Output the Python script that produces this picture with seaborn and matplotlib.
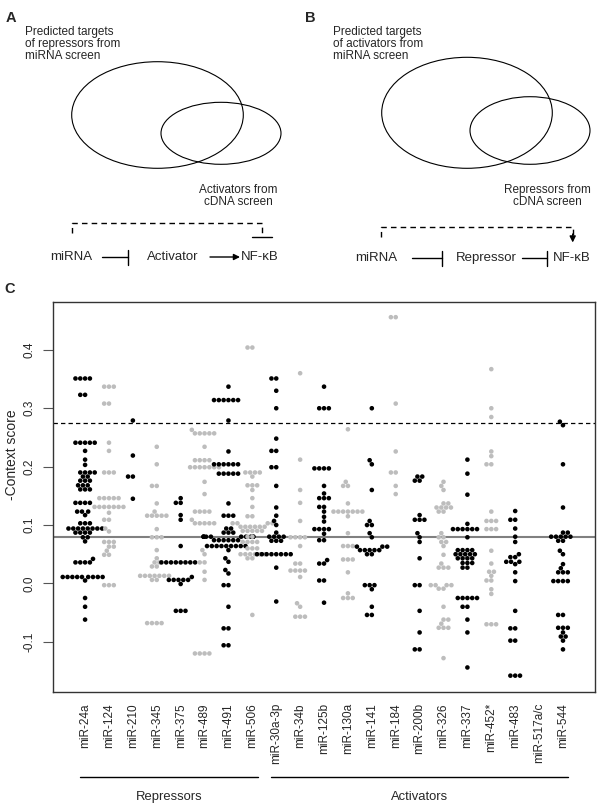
import pandas as pd
import matplotlib
matplotlib.use("Agg")
import matplotlib.pyplot as plt
from matplotlib.patches import Ellipse
from matplotlib.transforms import blended_transform_factory
import seaborn as sns
import seaborn.categorical as sns_cat

# -Context scores, as (value, number of dots at that value)
MIRNAS = ["miR-24a", "miR-124", "miR-210", "miR-345", "miR-375", "miR-489",
          "miR-491", "miR-506", "miR-30a-3p", "miR-34b", "miR-125b", "miR-130a",
          "miR-141", "miR-184", "miR-200b", "miR-326", "miR-337", "miR-452*",
          "miR-483", "miR-517a/c", "miR-544"]

mir_24a = [(0.351, 4), (0.323, 2), (0.241, 5), (0.227, 1), (0.212, 1), (0.203, 1),
           (0.190, 4), (0.183, 2), (0.176, 3), (0.168, 3), (0.161, 3), (0.138, 4),
           (0.123, 3), (0.117, 1), (0.103, 3), (0.094, 8), (0.087, 4), (0.079, 2),
           (0.072, 1), (0.042, 1), (0.036, 4), (0.011, 9), (0.005, 1), (-0.025, 1),
           (-0.040, 1), (-0.062, 1)]
mir_124 = [(0.337, 3), (0.308, 2), (0.241, 1), (0.227, 1), (0.190, 3), (0.146, 5),
           (0.131, 7), (0.121, 1), (0.109, 2), (0.094, 1), (0.089, 1), (0.071, 3),
           (0.063, 2), (0.056, 1), (0.049, 2), (-0.003, 3)]
mir_210 = [(0.279, 1), (0.219, 1), (0.183, 2), (0.145, 1)]
mir_345 = [(0.234, 1), (0.204, 1), (0.167, 2), (0.137, 1), (0.123, 1), (0.116, 5),
           (0.093, 1), (0.079, 3), (0.057, 1), (0.043, 1), (0.036, 2), (0.029, 2),
           (0.013, 7), (0.006, 2), (-0.068, 4)]
mir_375 = [(0.146, 1), (0.138, 2), (0.117, 1), (0.109, 1), (0.064, 1), (0.036, 8),
           (0.011, 1), (0.006, 5), (-0.001, 1), (-0.047, 3)]
mir_489 = [(0.263, 1), (0.257, 5), (0.234, 1), (0.211, 4), (0.199, 7), (0.174, 1),
           (0.153, 1), (0.123, 4), (0.109, 1), (0.103, 5), (0.057, 1), (0.050, 1),
           (0.036, 2), (0.020, 1), (0.006, 1), (-0.120, 4)]
mir_491 = [(0.337, 1), (0.314, 6), (0.279, 1), (0.226, 1), (0.204, 6), (0.188, 5),
           (0.137, 1), (0.116, 3), (0.094, 2), (0.087, 3), (0.080, 10), (0.074, 6),
           (0.064, 9), (0.057, 1), (0.043, 1), (0.037, 1), (0.023, 1), (0.017, 1),
           (-0.003, 2), (-0.040, 1), (-0.077, 2), (-0.106, 2)]
mir_506 = [(0.404, 2), (0.190, 4), (0.183, 1), (0.168, 3), (0.160, 1), (0.146, 1),
           (0.131, 1), (0.115, 2), (0.103, 4), (0.097, 6), (0.090, 5), (0.080, 2),
           (0.071, 4), (0.060, 3), (0.050, 6), (0.043, 2), (-0.054, 1)]
mir_30a = [(0.351, 2), (0.330, 1), (0.300, 1), (0.248, 1), (0.227, 2), (0.199, 2),
           (0.167, 1), (0.130, 1), (0.116, 1), (0.107, 1), (0.100, 1), (0.087, 1),
           (0.080, 4), (0.073, 3), (0.050, 8), (0.027, 1), (-0.031, 1)]
mir_34b = [(0.360, 1), (0.212, 1), (0.160, 1), (0.138, 1), (0.107, 1), (0.079, 4),
           (0.064, 1), (0.034, 2), (0.022, 4), (0.011, 1), (-0.034, 1), (-0.040, 1),
           (-0.057, 3)]
mir_125b = [(0.337, 1), (0.300, 3), (0.197, 4), (0.167, 1), (0.154, 1), (0.146, 3),
            (0.131, 2), (0.123, 1), (0.114, 1), (0.106, 1), (0.093, 4), (0.085, 1),
            (0.074, 2), (0.040, 1), (0.034, 2), (0.005, 2), (-0.033, 1)]
mir_130a = [(0.264, 1), (0.174, 1), (0.167, 2), (0.137, 1), (0.123, 7), (0.115, 1),
            (0.086, 1), (0.064, 3), (0.041, 3), (0.019, 1), (-0.017, 1), (-0.025, 3)]
mir_141 = [(0.300, 1), (0.211, 1), (0.204, 1), (0.160, 1), (0.107, 1), (0.100, 2),
           (0.086, 1), (0.079, 1), (0.063, 3), (0.057, 5), (0.050, 2), (-0.003, 3),
           (-0.010, 1), (-0.040, 1), (-0.054, 2)]
mir_184 = [(0.456, 2), (0.308, 1), (0.226, 1), (0.190, 2), (0.167, 1), (0.153, 1)]
mir_200b = [(0.183, 2), (0.176, 2), (0.117, 1), (0.109, 3), (0.086, 1), (0.079, 1),
            (0.071, 1), (0.043, 1), (-0.003, 2), (-0.047, 1), (-0.084, 1), (-0.113, 2)]
mir_326 = [(0.174, 1), (0.167, 1), (0.160, 1), (0.137, 2), (0.130, 4), (0.123, 2),
           (0.086, 1), (0.079, 2), (0.071, 2), (0.064, 1), (0.049, 1), (0.034, 1),
           (0.027, 3), (-0.003, 4), (-0.009, 2), (-0.040, 1), (-0.062, 2), (-0.069, 1),
           (-0.076, 3), (-0.128, 1)]
mir_337 = [(0.212, 1), (0.188, 1), (0.152, 1), (0.102, 1), (0.093, 6), (0.079, 1),
           (0.057, 4), (0.050, 5), (0.043, 4), (0.035, 3), (0.027, 2), (-0.025, 5),
           (-0.040, 2), (-0.062, 1), (-0.084, 1), (-0.144, 1)]
mir_452 = [(0.367, 1), (0.300, 1), (0.285, 1), (0.226, 1), (0.218, 1), (0.204, 2),
           (0.123, 1), (0.107, 3), (0.093, 3), (0.056, 1), (0.034, 1), (0.020, 2),
           (0.013, 1), (0.005, 2), (-0.010, 1), (-0.018, 1), (-0.070, 3)]
mir_483 = [(0.124, 1), (0.109, 2), (0.094, 1), (0.080, 1), (0.071, 1), (0.050, 1),
           (0.045, 2), (0.037, 3), (0.033, 1), (0.019, 1), (0.004, 1), (-0.047, 1),
           (-0.077, 2), (-0.098, 2), (-0.158, 3)]
mir_517 = []
mir_544 = [(0.277, 1), (0.271, 1), (0.204, 1), (0.130, 1), (0.087, 2), (0.080, 5),
           (0.073, 2), (0.056, 1), (0.050, 1), (0.033, 1), (0.026, 1), (0.019, 3),
           (0.004, 4), (-0.054, 2), (-0.076, 3), (-0.084, 1), (-0.091, 2), (-0.098, 1),
           (-0.113, 1)]

SCORES = [mir_24a, mir_124, mir_210, mir_345, mir_375, mir_489, mir_491, mir_506,
          mir_30a, mir_34b, mir_125b, mir_130a, mir_141, mir_184, mir_200b, mir_326,
          mir_337, mir_452, mir_483, mir_517, mir_544]

GROUPS = [("Repressors", "miR-24a", "miR-506"), ("Activators", "miR-30a-3p", "miR-544")]
CUTOFF_DASHED = 0.274
CUTOFF_SOLID = 0.080

rows = []
for name, pairs in zip(MIRNAS, SCORES):
    for value, n in pairs:
        rows += [{"mirna": name, "score": value}] * n
df = pd.DataFrame(rows)


# the original lets wide rows of dots spill into the neighbouring columns,
# so give the swarm more room than seaborn's default 0.8
class WideBeeswarm(sns_cat.Beeswarm):
    def __init__(self, width=0.8, **kws):
        super().__init__(width=width * 2.6, **kws)


sns_cat.Beeswarm = WideBeeswarm

sns.set_theme(style="white")
plt.rcParams['font.family'] = ['Liberation Sans', 'DejaVu Sans']

fig = plt.figure(figsize=(6, 8.1), dpi=100)

# panel C
ax = fig.add_axes([53.3 / 600, 118 / 810, 541.7 / 600, 390 / 810])
palette = {m: ("black" if i % 2 == 0 else "#bdbdbd") for i, m in enumerate(MIRNAS)}
sns.swarmplot(data=df, x="mirna", y="score", hue="mirna", order=MIRNAS,
              palette=palette, size=3.3, linewidth=0, legend=False,
              warn_thresh=1, ax=ax)
ax.axhline(CUTOFF_DASHED, color="black", lw=0.9, ls=(0, (3.5, 2.5)), zorder=0)
ax.axhline(CUTOFF_SOLID, color="#808080", lw=1.5, zorder=0)

ax.set_xlim(-1.33, 21.34)
ax.set_ylim(-0.186, 0.482)
ax.set_yticks([-0.1, 0.0, 0.1, 0.2, 0.3, 0.4])
ax.set_yticklabels(["-0.1", "0.0", "0.1", "0.2", "0.3", "0.4"])
ax.tick_params(axis="y", length=7, width=0.8, color="#555555", pad=6,
               labelsize=8.5, labelrotation=90, left=True)
for lab in ax.get_yticklabels():
    lab.set_va("center")
ax.tick_params(axis="x", length=0, pad=8, labelsize=8.5, labelrotation=90)
ax.set_xlabel("")
ax.set_ylabel("-Context score", fontsize=10, va="center")
ax.yaxis.set_label_coords(-0.077, 0.608)
for s in ax.spines.values():
    s.set_color("#333333")
    s.set_linewidth(1.0)

# group bars below the tick labels
trans = blended_transform_factory(ax.transData, ax.transAxes)
for label, first, last in GROUPS:
    x0 = MIRNAS.index(first) - 0.22
    x1 = MIRNAS.index(last) + 0.22
    ax.plot([x0, x1], [-0.217, -0.217], color="black", lw=1, transform=trans,
            clip_on=False)
    ax.text((x0 + x1) / 2, -0.268, label, fontsize=9.4, ha="center", va="center",
            transform=trans)

# panels A and B, drawn in pixel units
over = fig.add_axes([0, 0, 1, 1])
over.set_xlim(0, 600)
over.set_ylim(810, 0)
over.axis("off")

for lab, x, y in [("A", 11, 18), ("B", 310.5, 18), ("C", 9.5, 289)]:
    over.text(x, y, lab, fontsize=10.5, fontweight="bold", ha="center", va="center")

over.text(25, 44, "Predicted targets\nof repressors from\nmiRNA screen",
          fontsize=8.5, linespacing=1.05, va="center", ha="left")
over.text(333, 44, "Predicted targets\nof activators from\nmiRNA screen",
          fontsize=8.5, linespacing=1.05, va="center", ha="left")
over.text(238, 196, "Activators from\ncDNA screen", fontsize=8.5,
          linespacing=1.05, va="center", ha="center")
over.text(547, 196, "Repressors from\ncDNA screen", fontsize=8.5,
          linespacing=1.05, va="center", ha="center")

for cx, cy, w, h in [(157.5, 115, 171.6, 106.6), (221, 133.3, 120, 62),
                     (467, 112.8, 170.6, 111), (530, 130.5, 120, 67.6)]:
    over.add_patch(Ellipse((cx, cy), w, h, fill=False, ec="black", lw=0.8))


def inhibit(x0, x1, y):
    over.plot([x0, x1], [y, y], color="black", lw=1)
    over.plot([x1, x1], [y - 7.5, y + 7.5], color="black", lw=1)


# A pathway
over.plot([71.7, 71.7, 262.3, 262.3], [233, 222.7, 222.7, 237], color="black",
          lw=1, ls=(0, (4, 3)))
over.plot([252, 272], [237, 237], color="black", lw=1)
row_y = 257
over.text(71, row_y, "miRNA", fontsize=9.5, ha="center", va="center")
inhibit(101.7, 128.3, row_y)
over.text(173, row_y, "Activator", fontsize=9.5, ha="center", va="center")
over.annotate("", xy=(240, row_y), xytext=(210, row_y),
              arrowprops=dict(arrowstyle="-|>", color="black", lw=1,
                              mutation_scale=9, shrinkA=0, shrinkB=0))
over.text(260, row_y, "NF-κB", fontsize=9.5, ha="center", va="center")

# B pathway
over.plot([381, 381, 572.7, 572.7], [237, 226.7, 226.7, 236], color="black",
          lw=1, ls=(0, (4, 3)))
over.annotate("", xy=(572.7, 242.5), xytext=(572.7, 234),
              arrowprops=dict(arrowstyle="-|>", color="black", lw=1,
                              mutation_scale=9, shrinkA=0, shrinkB=0))
row_y = 258
over.text(376.7, row_y, "miRNA", fontsize=9.5, ha="center", va="center")
inhibit(411.7, 441.7, row_y)
over.text(486.7, row_y, "Repressor", fontsize=9.5, ha="center", va="center")
inhibit(521.7, 546.7, row_y)
over.text(572, row_y, "NF-κB", fontsize=9.5, ha="center", va="center")

fig.savefig("out.png", dpi=100)
